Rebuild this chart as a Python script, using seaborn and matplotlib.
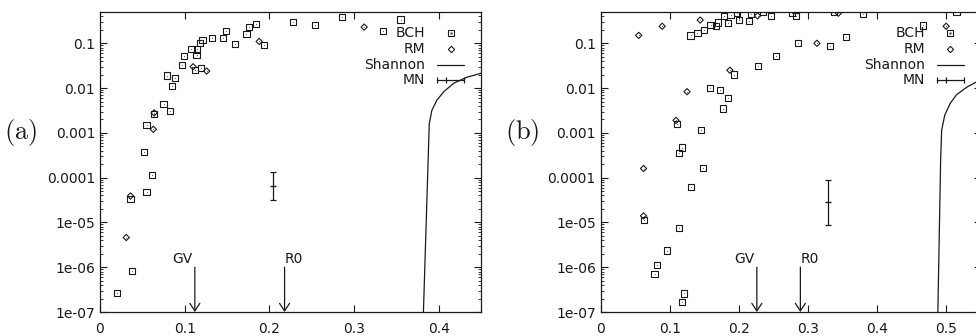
import numpy as np
import pandas as pd
import matplotlib
matplotlib.use("Agg")
import matplotlib.pyplot as plt
import seaborn as sns
from matplotlib.ticker import LogLocator, FixedLocator, NullFormatter

sns.set_theme(style="white")
plt.rcParams['font.family'] = ['DejaVu Sans']
plt.rcParams['mathtext.fontset'] = 'cm'

# ---------------- data: panel (a) ----------------
a_bch_x = [0.020, 0.038, 0.036, 0.055, 0.061, 0.052, 0.055, 0.064, 0.075, 0.083,
           0.079, 0.089, 0.085, 0.097, 0.099, 0.108, 0.114, 0.115, 0.112, 0.119,
           0.118, 0.121, 0.132, 0.145, 0.149, 0.159, 0.173, 0.176, 0.184, 0.194,
           0.228, 0.254, 0.286, 0.334, 0.355]
a_bch_y = [2.7e-7, 8.3e-7, 3.3e-5, 4.7e-5, 1.15e-4, 3.8e-4, 1.5e-3, 2.6e-3, 4.4e-3, 3.1e-3,
           0.019, 0.017, 0.011, 0.033, 0.052, 0.074, 0.055, 0.073, 0.025, 0.028,
           0.10, 0.117, 0.13, 0.13, 0.19, 0.095, 0.16, 0.23, 0.27, 0.093,
           0.30, 0.26, 0.39, 0.19, 0.34]
a_rm_x = [0.031, 0.036, 0.063, 0.064, 0.110, 0.126, 0.188, 0.312]
a_rm_y = [4.6e-6, 3.9e-5, 1.2e-3, 2.8e-3, 0.030, 0.024, 0.11, 0.23]
a_shannon_x = [0.382, 0.3889, 0.392, 0.398, 0.406, 0.418, 0.433, 0.450]
a_shannon_y = [1e-7, 1.6e-3, 3.2e-3, 5.4e-3, 8.3e-3, 0.0129, 0.0174, 0.0214]
a_mn_x = [0.204]
a_mn_y = [6.6e-5]
a_mn_lo = [3.1e-5]
a_mn_hi = [1.35e-4]
a_gv = 0.112
a_r0 = 0.218

# ---------------- data: panel (b) ----------------
b_bch_x = [0.078, 0.082, 0.096, 0.113, 0.118, 0.120, 0.063, 0.131, 0.148, 0.113,
           0.118, 0.110, 0.145, 0.177, 0.184, 0.173, 0.158, 0.193, 0.130, 0.140,
           0.150, 0.159, 0.167, 0.170, 0.178, 0.184, 0.188, 0.197, 0.200, 0.215,
           0.218, 0.235, 0.246, 0.277, 0.283, 0.338, 0.380, 0.515, 0.466, 0.285,
           0.332, 0.355, 0.254, 0.228]
b_bch_y = [7.2e-7, 1.12e-6, 2.35e-6, 7.4e-6, 1.67e-7, 2.6e-7, 1.15e-5, 6.1e-5, 1.66e-4, 3.6e-4,
           4.7e-4, 1.6e-3, 1.15e-3, 3.5e-3, 5.9e-3, 9.1e-3, 0.010, 0.020, 0.15, 0.17,
           0.20, 0.26, 0.24, 0.29, 0.41, 0.28, 0.43, 0.48, 0.33, 0.32,
           0.45, 0.49, 0.41, 0.48, 0.41, 0.50, 0.45, 0.51, 0.25, 0.10,
           0.087, 0.14, 0.052, 0.031]
b_rm_x = [0.055, 0.089, 0.144, 0.187, 0.125, 0.109, 0.062, 0.062, 0.227, 0.344, 0.313, 0.500]
b_rm_y = [0.15, 0.24, 0.33, 0.025, 0.0083, 1.9e-3, 1.6e-4, 1.4e-5, 0.41, 0.47, 0.10, 0.24]
b_shannon_x = [0.488, 0.492, 0.4935, 0.498, 0.506, 0.515, 0.530, 0.544, 0.550]
b_shannon_y = [1e-7, 2.5e-4, 1.15e-3, 2.5e-3, 4.6e-3, 7.1e-3, 0.0105, 0.0138, 0.0150]
b_mn_x = [0.329]
b_mn_y = [2.8e-5]
b_mn_lo = [8.7e-6]
b_mn_hi = [8.9e-5]
b_gv = 0.226
b_r0 = 0.289

y_ticks = [1e-7, 1e-6, 1e-5, 1e-4, 1e-3, 1e-2, 1e-1]
y_ticklabels = ["1e-07", "1e-06", "1e-05", "0.0001", "0.001", "0.01", "0.1"]
legend_labels = ["BCH", "RM", "Shannon", "MN"]

W, H = 976, 336
fig = plt.figure(figsize=(W / 100, H / 100), dpi=100)

INK = '#1a1a1a'
FS = 10


def panel(rect, xmax, xticks, bch_x, bch_y, rm_x, rm_y, sh_x, sh_y,
          mn_x, mn_y, mn_lo, mn_hi, gv, r0, tag, tag_x):
    ax = fig.add_axes(rect)
    ax.set_yscale('log')
    bch = pd.DataFrame({'x': bch_x, 'y': bch_y})
    rm = pd.DataFrame({'x': rm_x, 'y': rm_y})
    sh = pd.DataFrame({'x': sh_x, 'y': sh_y})
    sns.scatterplot(data=bch, x='x', y='y', marker='s', s=20, facecolor='none',
                    edgecolor=INK, linewidth=0.8, ax=ax, zorder=3)
    sns.scatterplot(data=bch, x='x', y='y', marker='o', s=0.6, color='#555555',
                    linewidth=0, ax=ax, zorder=4)
    sns.scatterplot(data=rm, x='x', y='y', marker='D', s=10, facecolor='none',
                    edgecolor=INK, linewidth=0.8, ax=ax, zorder=3)
    sns.scatterplot(data=rm, x='x', y='y', marker='o', s=0.6, color='#555555',
                    linewidth=0, ax=ax, zorder=4)
    sns.lineplot(data=sh, x='x', y='y', sort=False, estimator=None, color=INK,
                 linewidth=0.9, ax=ax)
    mn_y_arr = np.array(mn_y)
    yerr = [mn_y_arr - np.array(mn_lo), np.array(mn_hi) - mn_y_arr]
    ax.errorbar(mn_x, mn_y, yerr=yerr, fmt='_', markersize=4.5, color=INK,
                ecolor=INK, elinewidth=0.9, capsize=2.2, capthick=0.9, zorder=3)

    # GV / R0 arrows
    for xv, lab, ha in [(gv, 'GV', 'right'), (r0, 'R0', 'left')]:
        ax.annotate('', xy=(xv, 1e-7), xytext=(xv, 1e-6),
                    arrowprops=dict(arrowstyle='->,head_length=0.45,head_width=0.3',
                                    lw=0.9, color=INK, shrinkA=0, shrinkB=0))
        dx = -1.5 if ha == 'right' else 0
        ax.annotate(lab, xy=(xv, 1e-6), xytext=(dx, 1), textcoords='offset points',
                    ha=ha, va='bottom', fontsize=FS, color=INK)

    ax.set_xlim(0, xmax)
    ax.set_ylim(1e-7, 0.5)
    ax.set_xticks(xticks)
    ax.set_xticklabels([("%g" % t) for t in xticks])
    ax.yaxis.set_major_locator(FixedLocator(y_ticks))
    ax.set_yticklabels(y_ticklabels)
    ax.yaxis.set_minor_locator(LogLocator(base=10, subs=np.arange(2, 10), numticks=20))
    ax.yaxis.set_minor_formatter(NullFormatter())
    ax.tick_params(axis='both', which='major', direction='in', length=5, width=0.8,
                   color=INK, labelsize=FS, labelcolor=INK, top=True, right=True,
                   bottom=True, left=True)
    ax.tick_params(axis='x', which='major', pad=7)
    ax.tick_params(axis='y', which='major', pad=3.5)
    ax.tick_params(axis='y', which='minor', direction='in', length=2.5, width=0.6,
                   color=INK, left=True, right=True)
    ax.tick_params(axis='x', which='minor', bottom=False, top=False)
    for sp in ax.spines.values():
        sp.set_visible(True)
        sp.set_color(INK)
        sp.set_linewidth(0.9)
    ax.set_xlabel('')
    ax.set_ylabel('')
    ax.grid(False)

    # key (gnuplot style: text right-aligned, sample to the right)
    rows = [0.929, 0.8757, 0.8233, 0.7733]
    tx = 0.853
    s0, s1 = 0.8845, 0.9554
    sc = 0.92
    for lab, ry in zip(legend_labels, rows):
        ax.text(tx, ry, lab, transform=ax.transAxes, ha='right', va='center',
                fontsize=FS, color=INK)
    ax.plot([sc], [rows[0]], transform=ax.transAxes, marker='s', ms=4.3,
            mfc='none', mec=INK, mew=0.8, ls='none', clip_on=False)
    ax.plot([sc], [rows[0]], transform=ax.transAxes, marker='o', ms=0.8,
            color='#555555', ls='none', clip_on=False)
    ax.plot([sc], [rows[1]], transform=ax.transAxes, marker='D', ms=3.2,
            mfc='none', mec=INK, mew=0.8, ls='none', clip_on=False)
    ax.plot([s0, s1], [rows[2]] * 2, transform=ax.transAxes, color=INK, lw=0.9,
            clip_on=False)
    ax.plot([s0, s1], [rows[3]] * 2, transform=ax.transAxes, color=INK, lw=0.9,
            clip_on=False)
    for xx in (s0, s1, s0 + (s1 - s0) / 3):
        ax.plot([xx], [rows[3]], transform=ax.transAxes, marker='|', ms=4.5,
                mew=0.9, color=INK, clip_on=False)

    fig.text(tag_x, 1 - 133 / H, tag, fontsize=19, ha='left', va='center',
             color=INK)
    return ax


ax_a = panel([100 / W, 24 / H, 381 / W, 300 / H], 0.45, [0, 0.1, 0.2, 0.3, 0.4],
             a_bch_x, a_bch_y, a_rm_x, a_rm_y, a_shannon_x, a_shannon_y,
             a_mn_x, a_mn_y, a_mn_lo, a_mn_hi, a_gv, a_r0, r'$(\mathrm{a})$', 4 / W)
ax_b = panel([600.7 / W, 24 / H, 380 / W, 300 / H], 0.55, [0, 0.1, 0.2, 0.3, 0.4, 0.5],
             b_bch_x, b_bch_y, b_rm_x, b_rm_y, b_shannon_x, b_shannon_y,
             b_mn_x, b_mn_y, b_mn_lo, b_mn_hi, b_gv, b_r0, r'$(\mathrm{b})$', 505 / W)

fig.savefig('out.png', dpi=100)
